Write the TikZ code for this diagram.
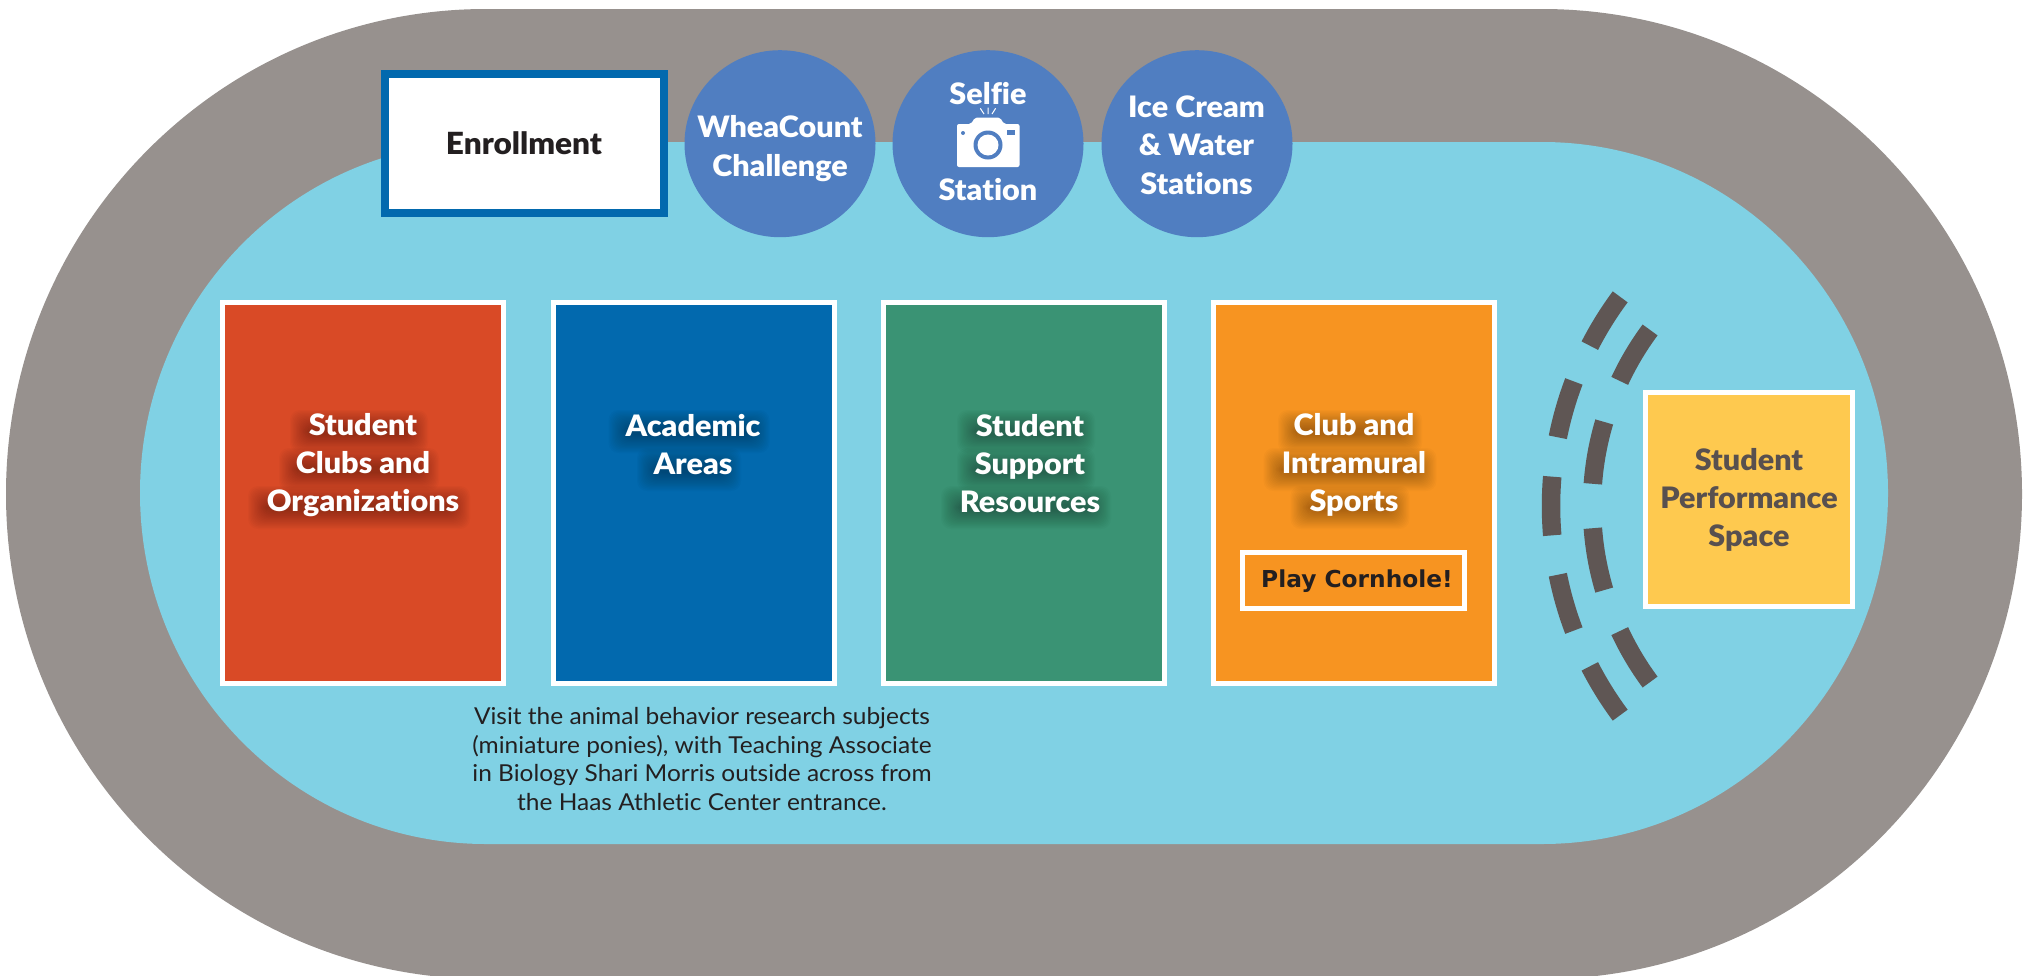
\documentclass[tikz,border=0pt]{standalone}
\usepackage{fontspec}
\usetikzlibrary{shapes.geometric}
\setmainfont{Lato}[BoldFont={Lato Black},Ligatures=NoCommon,FakeStretch=1.035]
\newfontfamily\notefont{Lato}[Ligatures=NoCommon,FakeStretch=1.05]
\newfontfamily\heavyfont{DejaVu Sans}
\definecolor{track}{HTML}{97918E}
\definecolor{field}{HTML}{80D1E4}
\definecolor{redbox}{HTML}{D94A26}
\definecolor{bluebox}{HTML}{0269AE}
\definecolor{greenbox}{HTML}{3A9374}
\definecolor{orangebox}{HTML}{F79421}
\definecolor{yellowbox}{HTML}{FEC94F}
\definecolor{circ}{HTML}{507EC1}
\definecolor{dashc}{HTML}{5F5654}
\definecolor{inkdark}{HTML}{231F20}
\definecolor{inkgrey}{HTML}{58504F}
\tikzset{
  areabox/.style={draw=white,line width=5pt,minimum width=281pt,minimum height=381pt,inner sep=0pt},
  lab/.style={text=white,font=\bfseries\fontsize{29.5}{38}\selectfont,align=center,inner sep=0pt},
  bubble/.style={fill=circ,ellipse,minimum width=191pt,minimum height=187pt,inner sep=0pt},
  bubtext/.style={inner sep=0pt,text=white,font=\bfseries\fontsize{29.5}{38.6}\selectfont,align=center},
  dashline/.style={draw=dashc,line width=18.5pt,line cap=butt}
}
\newcommand{\softband}[3]{%
  \foreach \e in {-6,-4.8,...,13}{%
    \fill[black,opacity=.018,rounded corners=10pt]
      ({#1-4-#3/2-\e},{#2-13-\e}) rectangle ({#1-4+#3/2+\e},{#2+6+\e});
  }%
}
\begin{document}
\begin{tikzpicture}[x=1pt,y=-1pt]
\useasboundingbox (0,0) rectangle (2026,975);
\fill[white] (0,0) rectangle (2026,975);
\begin{scope}
\clip (0,0) rectangle (2026,975);
% track and field
\fill[track] (486,9) -- (1542,9) arc[start angle=90,end angle=-90,x radius=480,y radius=-485]
  -- (486,979) arc[start angle=-90,end angle=-270,x radius=480,y radius=-485] -- cycle;
\fill[field] (486,142) -- (1542,142) arc[start angle=90,end angle=-90,x radius=346,y radius=-351]
  -- (486,844) arc[start angle=-90,end angle=-270,x radius=346,y radius=-351] -- cycle;
\end{scope}
% area boxes
\node[areabox,fill=redbox] (clubs) at (363,493) {};
\node[areabox,fill=bluebox] (academic) at (693.5,493) {};
\node[areabox,fill=greenbox] (support) at (1024,493) {};
\node[areabox,fill=orangebox] (sports) at (1354,493) {};
% soft shadows behind the white labels
\foreach \c/\b/\w in {363/435/114,363/473/136,363/511/198,
  693/435/137,693/473/80,
  1030/435/114,1030/473/114,1030/511/146,
  1354/435/120,1354/473/149,1354/511/95}{\softband{\c}{\b}{\w}}
\node[lab,anchor=center] (clubsT) at (363,465) {Student\\Clubs and\\Organizations};
\node[lab,anchor=center] (academicT) at (693,445) {Academic\\Areas};
\node[lab,anchor=center] (supportT) at (1030,463.5) {Student\\Support\\Resources};
\node[lab,anchor=center] (sportsT) at (1354,465) {Club and\\Intramural\\Sports};
\node[draw=white,line width=5pt,minimum width=222pt,minimum height=56pt,inner sep=0pt,text=inkdark,
  font=\heavyfont\bfseries\fontsize{23.3}{26}\selectfont,text depth=3pt] (cornhole) at (1353.5,580.5) {\hspace*{7pt}Play Cornhole!};
% performance space
\node[draw=white,line width=5pt,fill=yellowbox,minimum width=207pt,minimum height=214pt,inner sep=0pt,
  text=inkgrey,font=\bfseries\fontsize{29.5}{38}\selectfont,align=center] (perf) at (1749,499.5) {Student\\Performance\\Space};
% enrollment
\node[draw=bluebox,line width=8pt,fill=white,minimum width=279pt,minimum height=139pt,inner sep=0pt,
  text=inkdark,font=\bfseries\fontsize{30.5}{38}\selectfont] (enroll) at (524,143.5) {Enrollment};
% bubbles
\node[bubble] (whea) at (780,143.7) {};
\node[bubble] (selfie) at (988,143.7) {};
\node[bubble] (ice) at (1197,143.7) {};
\node[bubtext] (wheaT) at (780,148.5) {WheaCount\\Challenge};
\node[bubtext] (iceT) at (1196.5,145) {Ice Cream\\\& Water\\Stations};
\node[anchor=base,inner sep=0pt,text=white,font=\bfseries\fontsize{29.5}{38}\selectfont] (selfieA) at (988,104) {Selfie};
\node[anchor=base,inner sep=0pt,text=white,font=\bfseries\fontsize{29.5}{38}\selectfont] (selfieB) at (988,200) {Station};
% camera
\fill[white,rounded corners=2pt] (957,124) -- (971,124) -- (975,117.5) -- (1000,117.5) -- (1004,124) -- (1019.5,124) -- (1019.5,167) -- (957,167) -- cycle;
\fill[circ] (988,145) circle[radius=14.5];
\fill[white] (988,145) circle[radius=10.5];
\fill[circ] (963,133) circle[radius=2];
\fill[circ] (1007,130) rectangle (1015,135);
\draw[white,line width=1pt] (980.3,108.3) -- (984,114) (988,107.5) -- (988,114) (995.6,108.3) -- (992,114);
% dashed arcs
\foreach \a/\bb in {36.6/27.2,20.8/11.3,4.8/-4.8,-11.3/-20.8,-27.2/-36.6}{
  \draw[dashline] plot[domain=\a:\bb,samples=14,smooth] ({1901.8-350.8*cos(\x)},{506-350.8*sin(\x)});
}
\foreach \a/\bb in {36.5/25,16.5/4.3,-4.3/-16.5,-25/-36.5}{
  \draw[dashline] plot[domain=\a:\bb,samples=14,smooth] ({1888-296*cos(\x)},{506-296*sin(\x)});
}
% note
\node[inner sep=0pt,text=inkdark,align=center,font=\notefont\fontsize{23.3}{28.7}\selectfont] (note) at (702,759)
 {Visit the animal behavior research subjects\\(miniature ponies), with Teaching Associate\\in Biology Shari Morris outside across from\\the Haas Athletic Center entrance.};
\end{tikzpicture}
\end{document}
